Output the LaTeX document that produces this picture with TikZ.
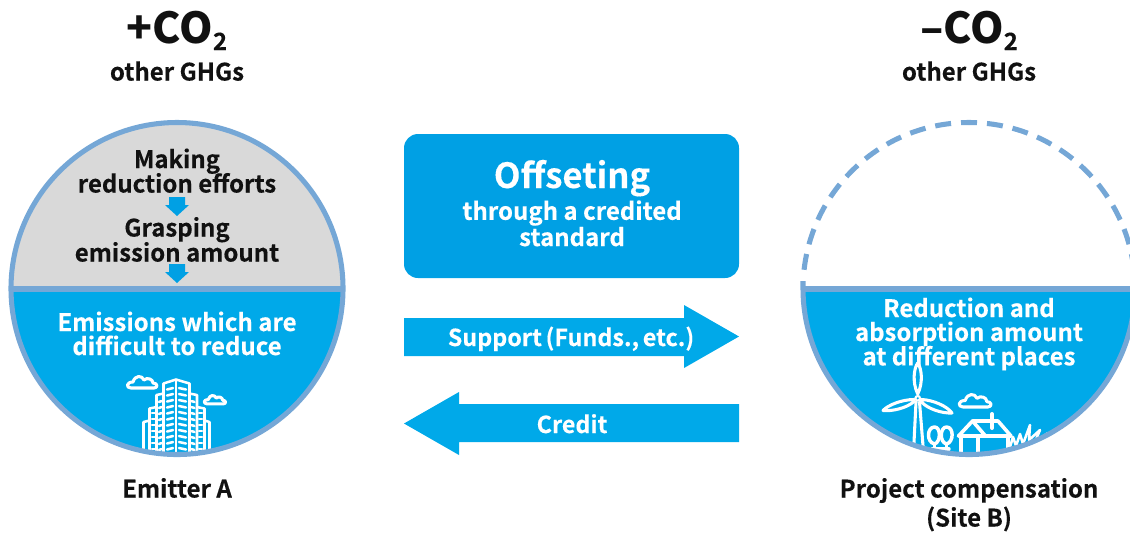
\documentclass[tikz,border=0pt]{standalone}
\usepackage{fontspec}
\setmainfont{Noto Sans CJK JP}[BoldFont={Noto Sans CJK JP Bold},BoldFeatures={FakeBold=0.25}]
\newfontfamily\heavyfont{Noto Sans CJK JP Black}
\definecolor{skyb}{HTML}{00A9E9}
\definecolor{boxb}{HTML}{00A0E4}
\definecolor{ringb}{HTML}{75A7D6}
\definecolor{greyf}{HTML}{D9D9D9}
\definecolor{inkk}{HTML}{111111}
\newcommand{\fz}[1]{\fontsize{#1}{#1}\selectfont\bfseries}
\newcommand{\hz}[1]{\fontsize{#1}{#1}\selectfont\heavyfont}
\newcommand{\cloudicon}[3]{%
  \draw[iconline,shift={(#1,#2)},scale=#3]
    (-12,6) .. controls (-17,6) and (-17,0) .. (-10,0)
    .. controls (-8,-7) and (-1,-7) .. (1,-2)
    .. controls (4,-5) and (10,-3) .. (10,1)
    .. controls (15,1) and (15,6) .. (11,6) -- cycle;}
\tikzset{
  lbl/.style={inner sep=0pt,anchor=base,text=inkk},
  wlbl/.style={inner sep=0pt,anchor=base,text=white},
  iconline/.style={draw=white,line width=2.3,line join=round,line cap=round},
  ring/.style={draw=ringb,line width=3.8},
}
\begin{document}
\begin{tikzpicture}[x=0.75pt,y=-0.75pt]
\useasboundingbox (0,0) rectangle (1130,533);
\clip (0,0) rectangle (1130,533);
% ---- left circle
\begin{scope}
  \clip (177,288.5) circle[radius=166];
  \fill[greyf] (0,120) rectangle (350,289);
  \fill[skyb] (0,289) rectangle (350,460);
  % building
  \begin{scope}[iconline,line width=1.9]
    \draw (143.5,452) -- (143.5,422) -- (149.5,420.5);
    \draw (209.5,452) -- (209.5,422) -- (204.5,420.5);
    \draw (149.5,452) -- (149.5,408.5) -- (156.5,407);
    \draw (204.5,452) -- (204.5,408.5) -- (197,407);
    \draw (156.5,452) -- (156.5,395) -- (163.5,393.5);
    \draw (197,452) -- (197,395) -- (189.5,393.5);
    \draw (163.5,452) -- (163.5,383.5) -- (176,379.5) -- (189.5,383.5) -- (189.5,452);
    \draw (176,379.5) -- (176,452);
    \foreach \yy in {388,394,...,448}{
      \draw (167,\yy+1.5) -- (173,\yy);
      \draw (179,\yy) -- (186,\yy+1.5);
    }
    \foreach \yy in {401,407,...,449}{
      \draw (159,\yy+1) -- (161.5,\yy);
      \draw (191.5,\yy) -- (194.5,\yy+1);
    }
    \foreach \yy in {413,419,...,449}{
      \draw (152,\yy) -- (154.5,\yy);
      \draw (199,\yy) -- (202,\yy);
    }
  \end{scope}
  \cloudicon{143}{382}{1}
  \cloudicon{215.5}{399.5}{0.72}
\end{scope}
\draw[ring] (177,288.5) circle[radius=166];
\draw[ring] (11,289) -- (343,289);
% down arrows
\fill[boxb] (169,197) -- (185,197) -- (185,205) -- (189,205) -- (177,216) -- (165,205) -- (169,205) -- cycle;
\fill[boxb] (169,264) -- (185,264) -- (185,272) -- (189,272) -- (177,283) -- (165,272) -- (169,272) -- cycle;
% ---- right half circle
\begin{scope}
  \clip (969,288.5) circle[radius=166];
  \fill[skyb] (790,289) rectangle (1140,460);
  \begin{scope}[iconline]
    % wind turbine
    \draw (917.7,394) .. controls (912,382) and (914,368) .. (917.7,363) .. controls (921.5,368) and (923.5,382) .. (917.7,394) -- cycle;
    \draw (914,399.5) .. controls (902,399.5) and (888,405) .. (883,410.5) .. controls (892,411.5) and (907,408) .. (914,401.5) -- cycle;
    \draw (921.5,399.5) .. controls (933,400) and (947,406) .. (952,413) .. controls (942,413.5) and (928,409) .. (921.5,402) -- cycle;
    \draw[line width=1.6] (917.7,398.3) circle[radius=2.3];
    \draw (916,402) -- (913.5,452);
    \draw (919.5,402) -- (923.5,452);
    % trees
    \draw[line width=2.6] (934.5,427) .. controls (927,427) and (926,442) .. (934.5,444) .. controls (941,442) and (941,427) .. (934.5,427) -- cycle;
    \draw[line width=2.6] (946.5,427) .. controls (940,427) and (939,442) .. (946.5,444) .. controls (954,442) and (954,427) .. (946.5,427) -- cycle;
    \draw[line width=2.6] (934.5,444) -- (934.5,452);
    \draw[line width=2.6] (946.5,444) -- (946.5,452);
    \draw[line width=2.6] (932,449) -- (949,449);
    % house
    \draw[line width=2.7] (958.5,436) -- (972.5,421) -- (998,421) -- (1011,436) -- cycle;
    \draw[line width=2.7] (972.5,421) -- (985.5,436);
    \draw[line width=2.7] (961,436) -- (961,456);
    \draw[line width=2.7] (978,436) -- (978,456);
    \draw[line width=2.7] (1008,436) -- (1008,456);
    \draw[line width=3] (992,414) -- (992,428);
    % grass
    \draw[line width=1.9] (1010,447) -- (1013,437) -- (1016,446) -- (1020,434) -- (1023,444) -- (1030,425) -- (1029,440) -- (1040,430) -- (1035,442) -- (1048,433);
  \end{scope}
  \cloudicon{976}{400.5}{1.08}
\end{scope}
\draw[ring] (803,281) -- (803,288.5) arc[start angle=180,end angle=0,radius=166];
\draw[ring] (803,289) -- (1135,289);
\draw[ring,dash pattern=on 12pt off 7.5pt,dash phase=6pt] (969,122.5) arc[start angle=270,end angle=186,radius=166];
\draw[ring,dash pattern=on 12pt off 7.5pt,dash phase=6pt] (969,122.5) arc[start angle=270,end angle=360,radius=166];
% ---- centre box and arrows
\node[fill=boxb,rounded corners=10.5pt,minimum width=251.25pt,minimum height=108pt,inner sep=0pt] (offbox) at (571.5,206) {};
\node[wlbl,font=\fz{26}] (offt) at (572,188) {Offseting};
\node[wlbl,font=\fz{18}] (offs) at (572,219.8) {through a credited};
\node[wlbl,font=\fz{18}] (offu) at (572,246) {standard};
\fill[skyb] (404,318) -- (684,318) -- (684,305) -- (739,336.5) -- (684,368) -- (684,356) -- (404,356) -- cycle;
\fill[skyb] (739,404) -- (459,404) -- (459,392) -- (404,423.5) -- (459,455) -- (459,442) -- (739,442) -- cycle;
\node[wlbl,font=\fz{17.5}] (sup) at (571,346) {Support\kern-1.2pt\ (Funds.,\kern-1.2pt\ etc.)};
\node[wlbl,font=\fz{17.5}] (cred) at (572,433) {Credit};
% ---- text
\node[lbl,font=\hz{32}] (plus) at (177,43.5) {+CO\raisebox{-5pt}{\normalfont\fz{18}2}};
\node[lbl,font=\fz{18}] (oga) at (177,80.5) {other GHGs};
\node[lbl,font=\hz{32}] (minus) at (969,43.5) {–CO\raisebox{-5pt}{\normalfont\fz{18}2}};
\node[lbl,font=\fz{18}] (ogb) at (969,80.5) {other GHGs};
\node[lbl,font=\fz{18}] (mk) at (177,168) {Making};
\node[lbl,font=\fz{18}] (re) at (177,192.5) {reduction efforts};
\node[lbl,font=\fz{18}] (gr) at (177,236.5) {Grasping};
\node[lbl,font=\fz{18}] (em) at (177,261.5) {emission amount};
\node[wlbl,font=\fz{18}] (e1) at (177,331) {Emissions which are};
\node[wlbl,font=\fz{18}] (e2) at (177,355) {difficult to reduce};
\node[wlbl,font=\fz{18}] (r1) at (969,317) {Reduction and};
\node[wlbl,font=\fz{18}] (r2) at (969,341) {absorption amount};
\node[wlbl,font=\fz{18}] (r3) at (969,365.3) {at different places};
\node[lbl,font=\fz{18}] (ea) at (177,497.5) {Emitter A};
\node[lbl,font=\fz{18}] (pc) at (969,497.5) {Project compensation};
\node[lbl,font=\fz{18}] (sb) at (969,526.5) {(Site B)};
\end{tikzpicture}
\end{document}
